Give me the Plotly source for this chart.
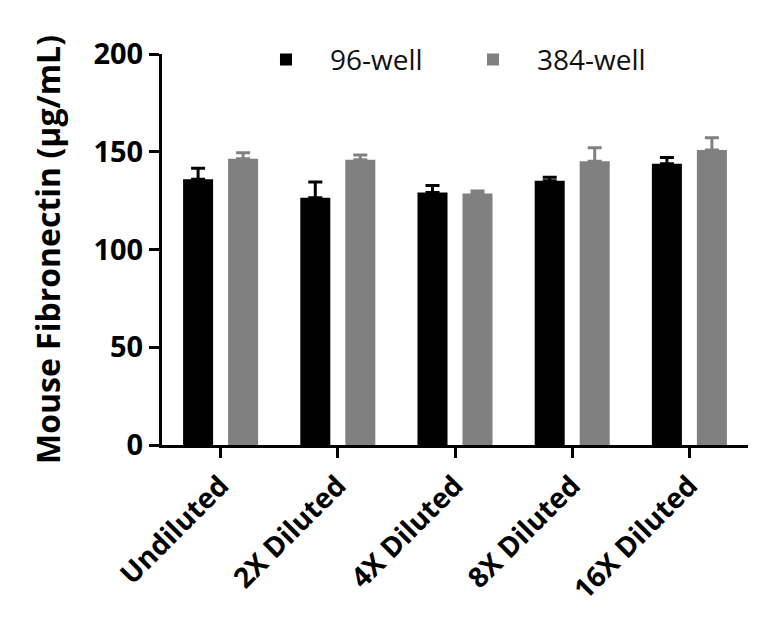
import plotly.graph_objects as go

categories = ["Undiluted", "2X Diluted", "4X Diluted", "8X Diluted", "16X Diluted"]
well96 = [135.9, 126.5, 129.2, 135.2, 143.9]
well96_err = [5.6, 8.0, 3.6, 1.7, 3.1]
well384 = [146.4, 145.9, 128.7, 145.1, 150.9]
well384_err = [3.1, 2.4, 1.2, 7.0, 6.3]

FONT = "Open Sans"

fig = go.Figure()
fig.add_trace(go.Bar(
    name="96-well", x=categories, y=well96,
    marker=dict(color="#000000", line=dict(width=0)),
    error_y=dict(type="data", array=well96_err, arrayminus=[0]*5, symmetric=False,
                 color="#000000", thickness=3, width=7),
))
fig.add_trace(go.Bar(
    name="384-well", x=categories, y=well384,
    marker=dict(color="#808080", line=dict(width=0)),
    error_y=dict(type="data", array=well384_err, arrayminus=[0]*5, symmetric=False,
                 color="#808080", thickness=3, width=7),
))

fig.update_layout(
    width=768, height=626,
    margin=dict(l=154, r=28, t=46, b=189, autoexpand=False),
    paper_bgcolor="white", plot_bgcolor="white",
    barmode="group", bargap=0.232, bargroupgap=0.333,
    font=dict(family=FONT, color="black"),
    legend=dict(orientation="h", x=0.1365, y=0.985, xanchor="left", yanchor="middle",
                font=dict(size=28, family=FONT, color="#111111"),
                itemwidth=78, entrywidth=114, bgcolor="rgba(0,0,0,0)"),
    showlegend=True,
)
fig.update_xaxes(
    range=[-0.5, 4.5], showline=True, linecolor="black", linewidth=3,
    ticks="outside", ticklen=10, tickwidth=3, tickcolor="black",
    tickangle=-45, tickfont=dict(size=28, family=FONT, color="black", weight="bold"),
    showgrid=False, zeroline=False,
)
fig.update_yaxes(
    range=[0, 200], tickvals=[0, 50, 100, 150, 200], showline=True,
    linecolor="black", linewidth=3, ticks="outside", ticklen=10, tickwidth=3,
    tickcolor="black", tickfont=dict(size=29, family=FONT, color="black", weight="bold"),
    showgrid=False, zeroline=False,
    title=dict(text="Mouse Fibronectin (µg/mL)", standoff=24,
               font=dict(size=32, family=FONT, color="black", weight="bold")),
)

fig.write_html("out.html")
